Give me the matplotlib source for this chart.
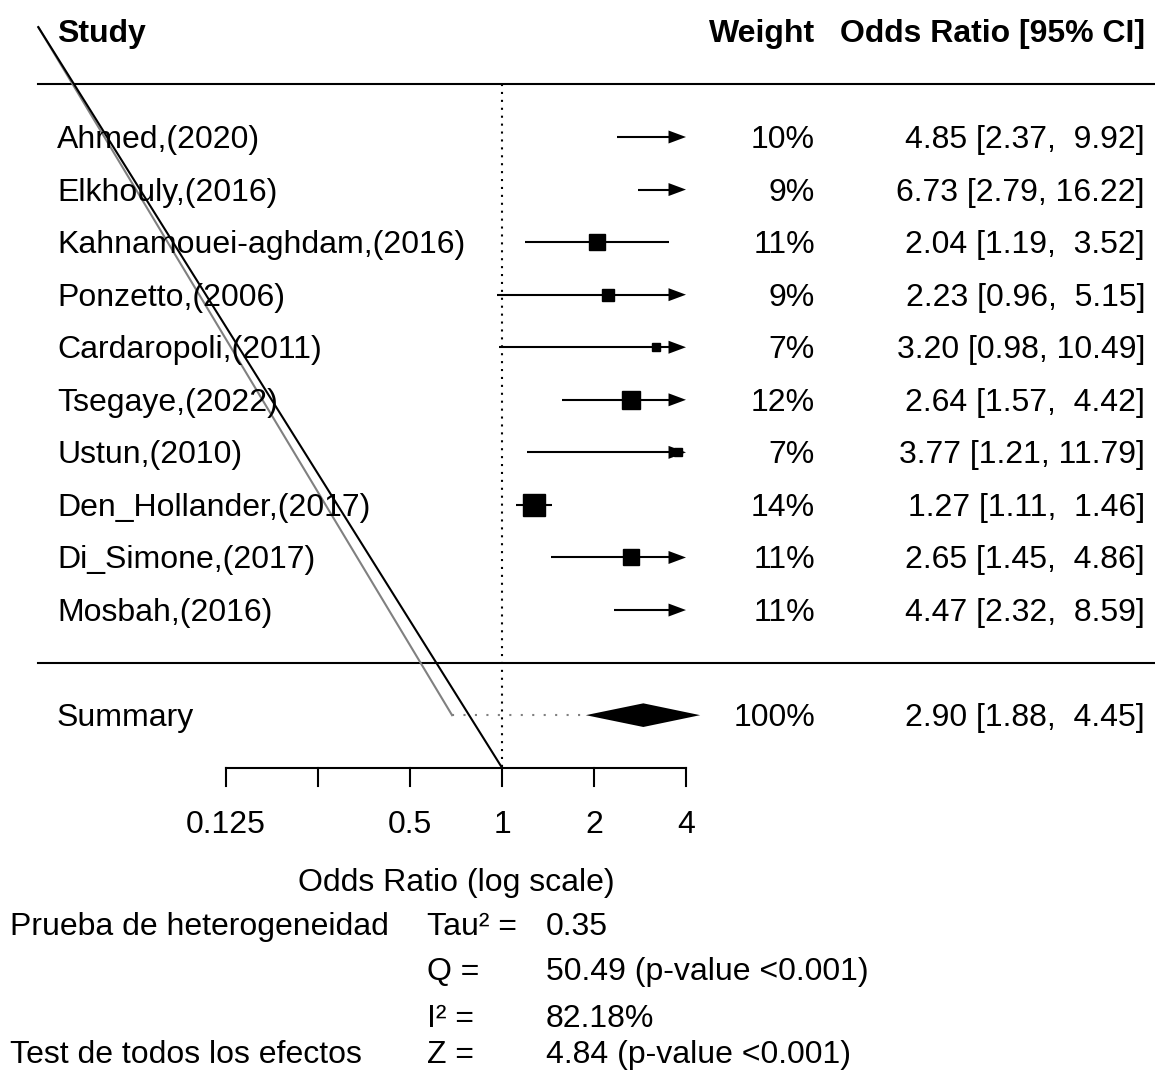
import numpy as np
import matplotlib
matplotlib.use("Agg")
from matplotlib import pyplot as plt
from matplotlib import transforms
from matplotlib.patches import Polygon

plt.rcParams['font.family'] = ['Liberation Sans', 'DejaVu Sans']

# data
studies = ["Ahmed,(2020)", "Elkhouly,(2016)", "Kahnamouei-aghdam,(2016)", "Ponzetto,(2006)",
           "Cardaropoli,(2011)", "Tsegaye,(2022)", "Ustun,(2010)", "Den_Hollander,(2017)",
           "Di_Simone,(2017)", "Mosbah,(2016)"]
odds = [4.85, 6.73, 2.04, 2.23, 3.20, 2.64, 3.77, 1.27, 2.65, 4.47]
lower = [2.37, 2.79, 1.19, 0.96, 0.98, 1.57, 1.21, 1.11, 1.45, 2.32]
upper = [9.92, 16.22, 3.52, 5.15, 10.49, 4.42, 11.79, 1.46, 4.86, 8.59]
weights = [10, 9, 11, 9, 7, 12, 7, 14, 11, 11]

summary_or = 2.90
summary_ci = [1.88, 4.45]

tick_vals = [0.125, 0.25, 0.5, 1, 2, 4]
tick_labels = ["0.125", "", "0.5", "1", "2", "4"]

stat_labels = ["Prueba de heterogeneidad", "", "", "Test de todos los efectos"]
stat_names = ["Tau\u00b2 =", "Q =", "I\u00b2 =", "Z ="]
stat_values = ["0.35", "50.49 (p-value <0.001)", "82.18%", "4.84 (p-value <0.001)"]

# stray diagonal lines in the original figure
diag_start = (2 ** -5.04, 12.09)
gray_end = (2 ** -0.543, -1)
black_end = (1, -2)

k = len(studies)
rows = np.arange(k, 0, -1)
alim = (tick_vals[0], tick_vals[-1])


def px2y(p):
    return (662.6 - p) / 52.56


fs = 23
base = 11 / 52.56  # baseline offset below row centre
fig = plt.figure(figsize=(11.55, 10.7), dpi=100)
ax = fig.add_axes([0, 0, 1, 1])
ax.set_xscale('log', base=2)
ax.set_xlim(2 ** (-502 / 92), 2 ** ((1155 - 502) / 92))
ax.set_ylim(px2y(1070), px2y(0))
ax.axis('off')
trans = transforms.blended_transform_factory(ax.transAxes, ax.transData)


def txt(x, y, s, ha='left', **kw):
    ax.text(x / 1155, y, s, transform=trans, fontsize=fs, va='baseline', ha=ha, **kw)


# header
txt(57, k + 2 - 10 / 52.56, "Study", fontweight='bold')
txt(815, k + 2 - 10 / 52.56, "Weight", ha='right', fontweight='bold')
txt(1145, k + 2 - 10 / 52.56, "Odds Ratio [95% CI]", ha='right', fontweight='bold')

ax.plot([38 / 1155, 1], [k + 1, k + 1], color='black', lw=1.5, transform=trans)
ax.plot([38 / 1155, 1], [0, 0], color='black', lw=1.5, transform=trans)

# reference line
ax.plot([1, 1], [k + 1, -2], color='black', lw=1.5, ls=(0, (1, 2.8)))

# studies
wmin, wmax = min(weights), max(weights)
ah_len = 2 ** -0.19
ah_h = 6.5 / 52.56
for y, name, o, lo, hi, w in zip(rows, studies, odds, lower, upper, weights):
    txt(57, y - base, name)
    txt(815, y - base, f"{w}%", ha='right')
    txt(1145, y - base, f"{o:.2f} [{lo:.2f}, {hi:5.2f}]", ha='right')
    x0 = max(lo, alim[0])
    x1 = min(hi, alim[1])
    ax.plot([x0, x1 * (ah_len if hi > alim[1] else 1)], [y, y], color='black', lw=1.5,
            solid_capstyle='butt')
    if alim[0] <= o <= alim[1]:
        size_px = 7.7 + (22 - 7.7) * (w - wmin) / (wmax - wmin)
        ax.plot([o], [y], marker='s', color='black', markersize=size_px * 0.72, ls='none')
    if hi > alim[1]:
        ax.add_patch(Polygon([[alim[1], y], [alim[1] * ah_len, y + ah_h], [alim[1] * ah_len, y - ah_h]],
                             closed=True, color='black', lw=0))

# summary
ys = -1
txt(57, ys - base, "Summary")
txt(815, ys - base, "100%", ha='right')
txt(1145, ys - base, f"{summary_or:.2f} [{summary_ci[0]:.2f}, {summary_ci[1]:5.2f}]", ha='right')
dh = 0.225
ax.add_patch(Polygon([[summary_ci[0], ys], [summary_or, ys + dh], [summary_ci[1], ys],
                      [summary_or, ys - dh]], closed=True, color='black', lw=0))
ax.plot([gray_end[0], summary_ci[0]], [ys, ys], color='gray', lw=1.5, ls=(0, (1, 4.5)))

# diagonal artefacts
ax.plot([diag_start[0], gray_end[0]], [diag_start[1], gray_end[1]], color='gray', lw=1.5)
ax.plot([diag_start[0], black_end[0]], [diag_start[1], black_end[1]], color='black', lw=1.5)

# x axis
ax.plot([alim[0], alim[1]], [-2, -2], color='black', lw=1.5)
for t, lab in zip(tick_vals, tick_labels):
    ax.plot([t, t], [-2, -2 - 18 / 52.56], color='black', lw=1.5)
    ax.text(t, px2y(833), lab, fontsize=fs, ha='center', va='baseline')
ax.text(2 ** ((456 - 502) / 92), px2y(891), "Odds Ratio (log scale)", fontsize=fs,
        ha='center', va='baseline')

# stats
for p, lab, nm, val in zip([935, 980, 1027, 1063], stat_labels, stat_names, stat_values):
    txt(10, px2y(p), lab)
    txt(427, px2y(p), nm)
    txt(546, px2y(p), val)

fig.savefig("out.png", dpi=100)
